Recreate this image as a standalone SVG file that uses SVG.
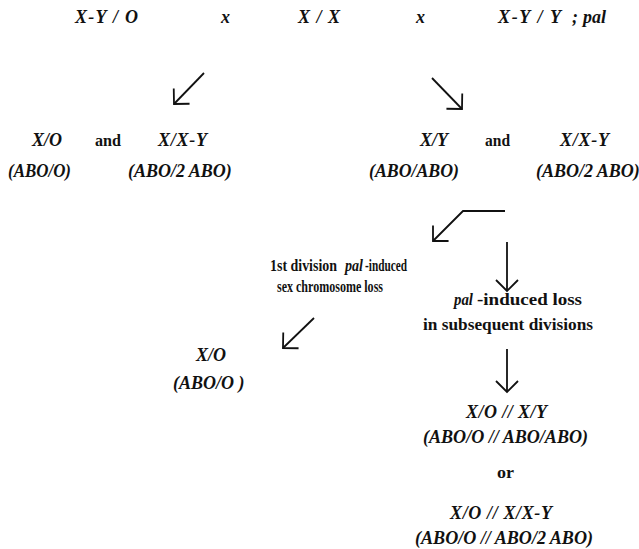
<svg xmlns="http://www.w3.org/2000/svg" width="639" height="549" viewBox="0 0 639 549">
<style>
text { font-family: "Liberation Serif", "Times New Roman", serif; fill: #111; }
.g { font-size: 18px; font-weight: bold; font-style: italic; }
.r { font-size: 16px; font-weight: bold; }
.s { font-size: 16px; font-weight: bold; }
.b { font-size: 17px; font-weight: bold; }
.i { font-style: italic; }
.conn { stroke: #111; stroke-width: 1.8; fill: none; marker-end: url(#ah); }
</style>
<defs>
<marker id="ah" markerUnits="userSpaceOnUse" viewBox="-13 -13 15 26" refX="0" refY="0" markerWidth="15" markerHeight="26" orient="auto">
<path d="M-11,-11 L0,0 L-11,11" fill="none" stroke="#111" stroke-width="1.8"/>
</marker>
</defs>
<rect width="639" height="549" fill="#fff"/>
<g id="connectors">
<line class="conn" x1="204" y1="73" x2="174" y2="104"/>
<line class="conn" x1="432" y1="78" x2="462" y2="109"/>
<polyline class="conn" points="505,211 463,211 433,241"/>
<line class="conn" x1="507" y1="242" x2="507" y2="291"/>
<line class="conn" x1="314" y1="318" x2="283" y2="348"/>
<line class="conn" x1="507" y1="349" x2="507" y2="392"/>
</g>
<g id="parent1"><text class="g" x="75" y="23" textLength="63">X-Y / O</text></g>
<g id="cross1"><text class="g" x="221" y="23">x</text></g>
<g id="parent2"><text class="g" x="298" y="23" textLength="42">X / X</text></g>
<g id="cross2"><text class="g" x="416" y="23">x</text></g>
<g id="parent3">
<text class="g" x="498" y="23" textLength="63">X-Y / Y</text>
<text class="g" x="572" y="23">;</text>
<text class="g" x="583" y="23" font-size="15" textLength="23">pal</text>
</g>
<g id="progeny-left">
<text class="g" x="32" y="146">X/O</text>
<text class="r" x="95" y="146" textLength="26" lengthAdjust="spacingAndGlyphs">and</text>
<text class="g" x="158" y="146" textLength="49">X/X-Y</text>
<text class="g" x="8" y="177" textLength="63" lengthAdjust="spacingAndGlyphs">(ABO/O)</text>
<text class="g" x="128" y="177">(ABO/2 ABO)</text>
</g>
<g id="progeny-right">
<text class="g" x="420" y="146">X/Y</text>
<text class="r" x="485" y="146" textLength="25" lengthAdjust="spacingAndGlyphs">and</text>
<text class="g" x="560" y="146" textLength="49">X/X-Y</text>
<text class="g" x="369" y="177" textLength="90" lengthAdjust="spacingAndGlyphs">(ABO/ABO)</text>
<text class="g" x="536" y="177">(ABO/2 ABO)</text>
</g>
<g id="first-division">
<text class="s" x="270" y="271" textLength="67" lengthAdjust="spacingAndGlyphs">1st division</text>
<text class="s i" x="345" y="271" textLength="18" lengthAdjust="spacingAndGlyphs">pal</text>
<text class="s" x="365" y="271" textLength="42" lengthAdjust="spacingAndGlyphs">-induced</text>
<text class="s" x="277" y="292" textLength="106" lengthAdjust="spacingAndGlyphs">sex chromosome loss</text>
</g>
<g id="subsequent-divisions">
<text class="b i" x="454" y="305" textLength="19" lengthAdjust="spacingAndGlyphs">pal</text>
<text class="b" x="477" y="305" textLength="105" lengthAdjust="spacingAndGlyphs">-induced loss</text>
<text class="b" x="423" y="330" textLength="170" lengthAdjust="spacingAndGlyphs">in subsequent divisions</text>
</g>
<g id="result-xo">
<text class="g" x="196" y="361">X/O</text>
<text class="g" x="173" y="389">(ABO/O )</text>
</g>
<g id="mosaic1">
<text class="g" x="466" y="418" textLength="81">X/O // X/Y</text>
<text class="g" x="423" y="443" textLength="165" lengthAdjust="spacingAndGlyphs">(ABO/O // ABO/ABO)</text>
</g>
<g id="or"><text class="r" x="497" y="478" textLength="17" lengthAdjust="spacingAndGlyphs">or</text></g>
<g id="mosaic2">
<text class="g" x="450" y="519" textLength="102">X/O // X/X-Y</text>
<text class="g" x="415" y="544" textLength="178" lengthAdjust="spacingAndGlyphs">(ABO/O // ABO/2 ABO)</text>
</g>
</svg>
